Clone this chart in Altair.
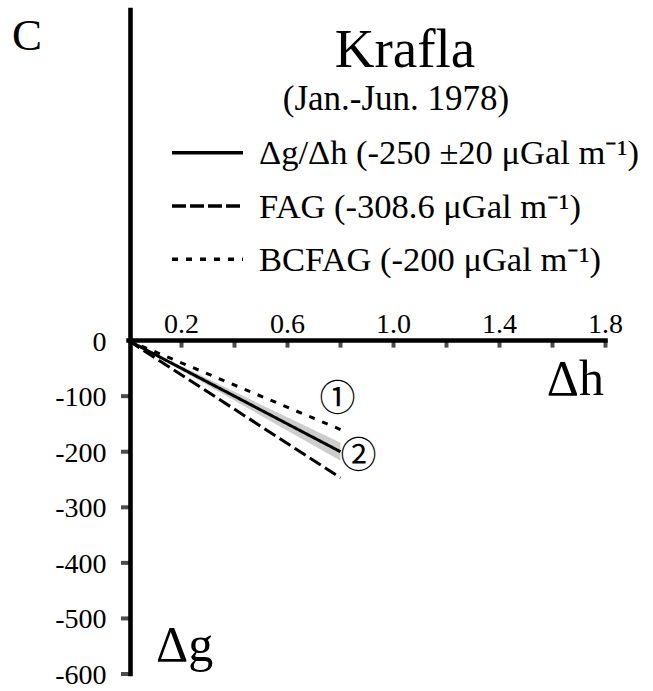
import altair as alt
import pandas as pd

# ---------------- data ----------------
dh = [0.0, 0.8]
g_obs = [0, -200]        # observed gradient  -250 μGal/m
g_fag = [0, -247]        # free-air gradient  -308.6 μGal/m
g_bcfag = [0, -160]      # Bouguer-corrected  -200 μGal/m
band_hi = [0, -184]      # -250 + 20
band_lo = [0, -216]      # -250 - 20

series_names = ["obs", "FAG", "BCFAG"]

x_ticks = [0.2, 0.4, 0.6, 0.8, 1.0, 1.2, 1.4, 1.6, 1.8]
x_labels = [0.2, 0.6, 1.0, 1.4, 1.8]
y_ticks = [-100, -200, -300, -400, -500, -600]
y_labels = [0, -100, -200, -300, -400, -500, -600]
x_axis_span = [0.0, 1.8]
y_axis_span = [-600, 595]

legend_labels = [
    "Δg/Δh (-250 ±20 μGal m⁻¹)",
    "FAG (-308.6 μGal m⁻¹)",
    "BCFAG (-200 μGal m⁻¹)",
]
marker_labels = ["①", "②"]
marker_x = [0.789, 0.868]
marker_y = [-106, -209]

# ---------------- tables ----------------
lines_df = pd.DataFrame({
    "dh": dh * 3,
    "dg": g_obs + g_fag + g_bcfag,
    "series": [s for s in series_names for _ in dh],
})
band_df = pd.DataFrame({"dh": dh, "hi": band_hi, "lo": band_lo})
xt_df = pd.DataFrame({"v": x_ticks, "z": [0] * len(x_ticks)})
xl_df = pd.DataFrame({"v": x_labels, "z": [0] * len(x_labels),
                      "t": [f"{v:.1f}" for v in x_labels]})
yt_df = pd.DataFrame({"v": y_ticks, "z": [0] * len(y_ticks)})
yl_df = pd.DataFrame({"v": y_labels, "z": [0] * len(y_labels),
                      "t": [str(v) for v in y_labels]})
xaxis_df = pd.DataFrame({"x1": [x_axis_span[0]], "x2": [x_axis_span[1]], "y": [0]})
yaxis_df = pd.DataFrame({"y1": [y_axis_span[0]], "y2": [y_axis_span[1]], "x": [0]})
mk_df = pd.DataFrame({"x": marker_x, "y": marker_y, "t": marker_labels})

FONT = "Liberation Serif"
xs = alt.Scale(domain=[0, 1.8], range=[128.5, 605.5])
ys = alt.Scale(domain=[-600, 595], range=[674, 10])

X = lambda f: alt.X(f, scale=xs, axis=None)
Y = lambda f: alt.Y(f, scale=ys, axis=None)

band = alt.Chart(band_df).mark_area(color="#cdcdcd").encode(
    x=X("dh:Q"), y=Y("hi:Q"), y2="lo:Q",
)

lines = alt.Chart(lines_df).mark_line(color="black", strokeWidth=3).encode(
    x=X("dh:Q"),
    y=Y("dg:Q"),
    strokeDash=alt.StrokeDash(
        "series:N",
        scale=alt.Scale(domain=series_names, range=[[1, 0], [13, 5], [6, 8]]),
        legend=None,
    ),
)

x_axis = alt.Chart(xaxis_df).mark_rule(color="black", strokeWidth=4.5, strokeCap="square").encode(
    x=X("x1:Q"), x2="x2:Q", y=Y("y:Q")
)
y_axis = alt.Chart(yaxis_df).mark_rule(color="black", strokeWidth=4.6, strokeCap="square", xOffset=2).encode(
    y=Y("y1:Q"), y2="y2:Q", x=X("x:Q")
)

x_tick_marks = alt.Chart(xt_df).mark_tick(
    color="black", orient="vertical", size=8, thickness=4, yOffset=3
).encode(x=X("v:Q"), y=Y("z:Q"))

y_tick_marks = alt.Chart(yt_df).mark_tick(
    color="black", orient="horizontal", size=9, thickness=4, xOffset=-3
).encode(y=Y("v:Q"), x=X("z:Q"))

x_tick_text = alt.Chart(xl_df).mark_text(
    font=FONT, fontSize=28, color="black", baseline="alphabetic", align="center", dy=-8
).encode(x=X("v:Q"), y=Y("z:Q"), text="t:N")

y_tick_text = alt.Chart(yl_df).mark_text(
    font=FONT, fontSize=28, color="black", baseline="middle", align="right", dx=-22, dy=2
).encode(y=Y("v:Q"), x=X("z:Q"), text="t:N")

markers = alt.Chart(mk_df).mark_text(
    font="Noto Sans CJK JP", fontSize=36, color="black", baseline="middle", align="center"
).encode(x=X("x:Q"), y=Y("y:Q"), text="t:N")


def label(text, x, y, size, align="left", font=FONT):
    return alt.Chart(pd.DataFrame({"t": [text]})).mark_text(
        font=font, fontSize=size, color="black", align=align, baseline="alphabetic"
    ).encode(x=alt.value(x), y=alt.value(y), text="t:N")


annotations = [
    label("C", 12, 50, 45),
    label("Krafla", 405, 67, 55, align="center"),
    label("(Jan.-Jun. 1978)", 396, 110, 35, align="center"),
    label("Δh", 604, 395, 50, align="right"),
    label("Δg", 156, 661, 50),
]

leg_y = [152.7, 206.0, 259.3]
leg_dash = [[1, 0], [14, 4], [6, 8]]
legend_layers = []
for lab, yy, dash in zip(legend_labels, leg_y, leg_dash):
    legend_layers.append(
        alt.Chart(pd.DataFrame({"t": [lab]})).mark_rule(
            color="black", strokeWidth=3.5, strokeDash=dash
        ).encode(x=alt.value(172), x2=alt.value(243), y=alt.value(yy))
    )
    legend_layers.append(label(lab, 259, yy + 11.5, 34.5))

chart = alt.layer(
    band, lines, x_axis, y_axis, x_tick_marks, y_tick_marks,
    x_tick_text, y_tick_text, markers, *annotations, *legend_layers
).properties(
    width=653, height=691, padding=0, autosize=alt.AutoSizeParams(type="none"),
    background="white",
).configure_view(stroke=None)

chart.save("out.html", embed_options={"renderer": "svg", "actions": False})
